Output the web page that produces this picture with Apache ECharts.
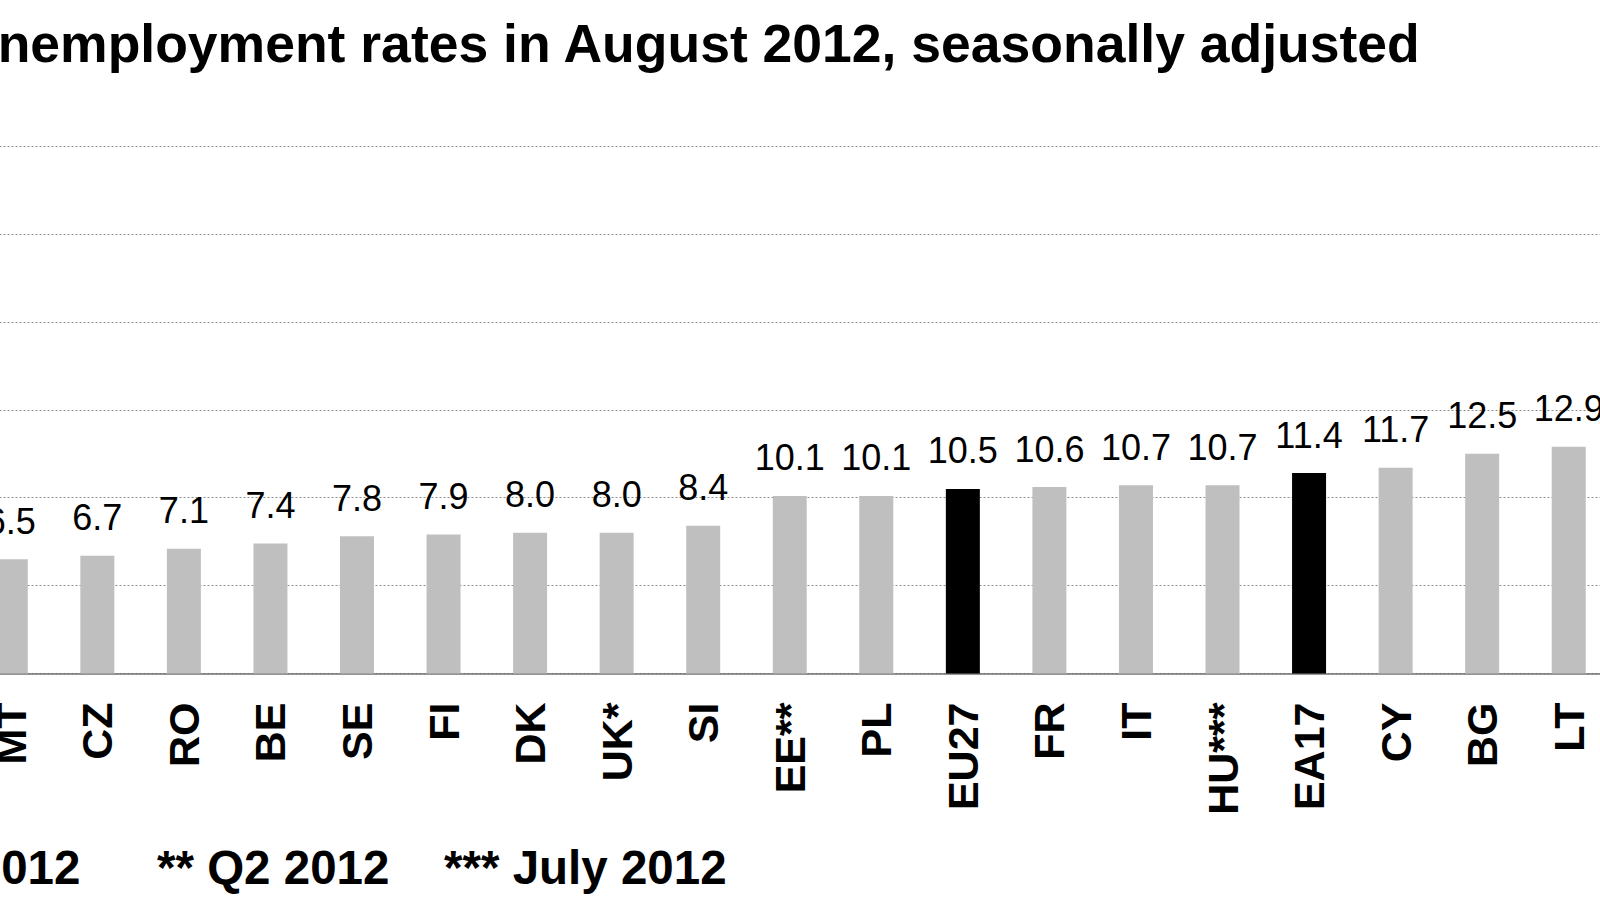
<!DOCTYPE html>
<html>
<head>
<meta charset="utf-8">
<style>
  html, body { margin: 0; padding: 0; background: #ffffff; overflow: hidden; width: 1600px; height: 900px; position: relative; }
  #chart { position: absolute; left: -60px; top: 0; width: 1700px; height: 900px; }
</style>
<script src="https://cdn.jsdelivr.net/npm/echarts@6/dist/echarts.min.js"></script>
</head>
<body>
<div id="chart"></div>
<script>
const categories = ['MT', 'CZ', 'RO', 'BE', 'SE', 'FI', 'DK', 'UK*', 'SI', 'EE**', 'PL', 'EU27', 'FR', 'IT', 'HU***', 'EA17', 'CY', 'BG', 'LT'];
const values = [6.5, 6.7, 7.1, 7.4, 7.8, 7.9, 8.0, 8.0, 8.4, 10.1, 10.1, 10.5, 10.6, 10.7, 10.7, 11.4, 11.7, 12.5, 12.9];
const aggregates = ['EU27', 'EA17'];
const titleText = 'Unemployment rates in August 2012, seasonally adjusted';
const footnotes = ['* June 2012', '** Q2 2012', '*** July 2012'];

const FONT = "'Liberation Sans', Arial, sans-serif";
const OFF = 60; // the chart canvas starts 60px left of the visible frame
const chart = echarts.init(document.getElementById('chart'), null, { renderer: 'svg' });

const barData = values.map((v, i) => ({
  value: v,
  itemStyle: { color: aggregates.includes(categories[i]) ? '#000000' : '#bfbfbf' }
}));

const footX = [-181, 157, 444];

chart.setOption({
  animation: false,
  backgroundColor: '#ffffff',
  title: {
    text: titleText,
    left: OFF - 41,
    top: 16,
    padding: 0,
    textStyle: { fontFamily: FONT, fontSize: 53.5, fontWeight: 'bold', color: '#000000' }
  },
  grid: { left: OFF - 32.5, width: 1644.5, top: 146, bottom: 226.5, containLabel: false },
  xAxis: {
    type: 'category',
    data: categories,
    axisLine: { lineStyle: { color: '#707070', width: 1.5 } },
    axisTick: { length: 13, lineStyle: { color: '#707070', width: 1.5 } },
    axisLabel: {
      rotate: 90,
      margin: 29,
      interval: 0,
      fontFamily: FONT,
      fontSize: 43,
      fontWeight: 'bold',
      color: '#000000'
    }
  },
  yAxis: {
    type: 'value',
    min: 0,
    max: 30,
    interval: 5,
    axisLine: { show: false },
    axisTick: { show: false },
    axisLabel: { show: false },
    splitLine: { lineStyle: { color: '#8c8c8c', type: [2, 2], width: 1 } }
  },
  series: [{
    type: 'bar',
    data: barData,
    barWidth: 34,
    label: {
      show: true,
      position: 'top',
      distance: 20,
      formatter: p => p.value.toFixed(1),
      fontFamily: FONT,
      fontSize: 36,
      color: '#000000'
    }
  }],
  graphic: footnotes.map((t, i) => ({
    type: 'text',
    x: OFF + footX[i],
    y: 867,
    style: {
      text: t,
      font: 'bold 47.5px ' + FONT,
      fill: '#000000',
      verticalAlign: 'middle',
      align: 'left'
    }
  }))
});
</script>
</body>
</html>
